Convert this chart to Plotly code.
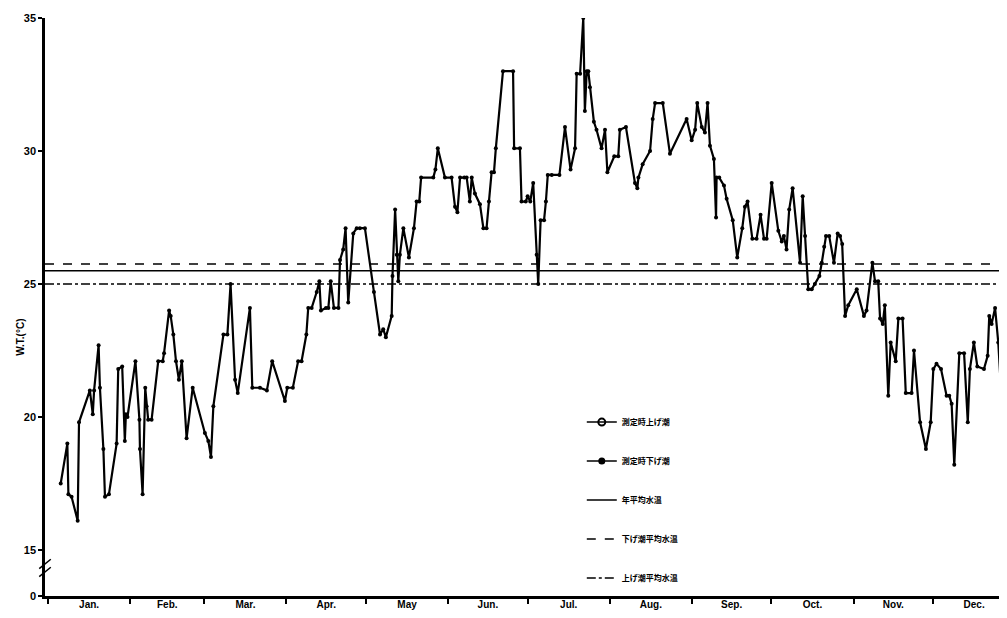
import plotly.graph_objects as go

# ---- data (day of year, water temperature degC) ----
day = [4.8, 7.3, 7.7, 8.9, 11.2, 11.7, 15.8, 16.9, 17.4, 19.1, 19.6, 20.9, 21.5, 23.0, 25.9, 26.5, 28.0, 29.0, 29.4, 30.0,
       33.0, 34.5, 34.7, 35.7, 36.7, 37.2, 37.8, 39.1, 41.6, 43.3, 43.8, 45.7, 46.3, 47.3, 48.3, 49.4, 50.5, 52.3, 54.6,
       59.2, 60.5, 61.5, 62.4, 66.2, 67.7, 68.9, 70.6, 71.6, 76.2, 77.1, 80.0, 82.6, 84.6, 89.4, 90.3, 92.4, 94.4, 95.7,
       97.5, 98.2, 99.5, 101.4, 102.4, 103.0, 104.9, 105.8, 106.7, 107.9, 109.6, 110.2, 111.4, 112.3, 113.3, 115.2, 116.5,
       117.7, 119.6, 123.0, 125.3, 126.5, 127.5, 129.7, 130.0, 131.0, 131.6, 132.2, 132.8, 134.1, 136.2, 138.1, 139.1,
       140.1, 140.8, 145.4, 146.2, 147.1, 149.8, 152.3, 153.6, 154.5, 155.5, 157.1, 158.0, 159.2, 159.9, 161.1, 163.0,
       164.3, 165.5, 166.4, 167.4, 168.3, 169.0, 171.7, 175.5, 175.9, 178.1, 178.7, 180.3, 181.0, 182.0, 183.1, 184.4,
       185.0, 185.9, 187.2, 187.9, 188.6, 190.1, 193.0, 195.1, 197.2, 198.9, 199.5, 200.8, 202.0, 202.6, 203.3, 203.9,
       204.5, 206.0, 207.0, 208.9, 210.2, 211.1, 213.7, 215.2, 215.8, 218.1, 221.5, 222.4, 222.8, 224.4, 227.2, 228.2,
       229.1, 232.0, 234.7, 241.0, 242.9, 244.2, 245.0, 246.7, 247.9, 248.9, 249.8, 251.3, 252.1, 252.3, 253.3, 255.1,
       256.1, 258.4, 260.1, 262.0, 263.0, 264.0, 265.8, 267.4, 268.9, 270.2, 271.2, 273.1, 275.6, 276.9, 277.7, 278.7,
       279.7, 281.0, 283.8, 284.8, 285.7, 286.9, 288.2, 289.4, 291.1, 292.0, 292.9, 293.6, 294.8, 296.6, 298.0, 298.9,
       299.7, 300.8, 302.0, 305.2, 307.9, 308.9, 311.1, 312.1, 313.3, 314.0, 315.0, 315.8, 317.1, 318.0, 319.9, 320.9,
       322.5, 323.7, 325.9, 326.8, 329.1, 331.3, 333.1, 334.1, 335.3, 337.0, 339.1, 340.1, 341.0, 342.0, 343.9, 345.7,
       347.1, 347.9, 349.4, 350.7, 353.2, 354.6, 355.2, 356.1, 357.4, 358.6, 361.5, 362.5]
temp = [17.5, 19.0, 17.1, 17.0, 16.1, 19.8, 21.0, 20.1, 21.0, 22.7, 21.1, 18.8, 17.0, 17.1, 19.0, 21.8, 21.9, 19.1, 20.1, 20.0,
        22.1, 19.9, 18.8, 17.1, 21.1, 20.4, 19.9, 19.9, 22.1, 22.1, 22.4, 24.0, 23.8, 23.1, 22.1, 21.4, 22.1, 19.2, 21.1,
        19.4, 19.1, 18.5, 20.4, 23.1, 23.1, 25.0, 21.4, 20.9, 24.1, 21.1, 21.1, 21.0, 22.1, 20.6, 21.1, 21.1, 22.1, 22.1,
        23.1, 24.1, 24.1, 24.7, 25.1, 24.0, 24.1, 24.1, 25.1, 24.1, 24.1, 25.9, 26.3, 27.1, 24.3, 26.9, 27.1,
        27.1, 27.1, 24.7, 23.1, 23.3, 23.0, 23.8, 25.3, 27.8, 26.1, 25.1, 26.1, 27.1, 26.0, 27.1, 28.1,
        28.1, 29.0, 29.0, 29.3, 30.1, 29.0, 29.0, 27.9, 27.7, 29.0, 29.0, 29.0, 28.1, 29.0, 28.4, 28.0,
        27.1, 27.1, 28.1, 29.2, 29.2, 30.1, 33.0, 33.0, 30.1, 30.1, 28.1, 28.1, 28.3, 28.1, 28.8, 26.1,
        25.0, 27.4, 27.4, 28.1, 29.1, 29.1, 29.1, 30.9, 29.3, 30.1, 32.9, 32.9, 35.0, 31.5, 33.0, 33.0,
        32.4, 31.1, 30.8, 30.1, 30.8, 29.2, 29.8, 29.8, 30.8, 30.9, 28.8, 28.6, 29.0, 29.5, 30.0, 31.2,
        31.8, 31.8, 29.9, 31.2, 30.4, 30.8, 31.8, 30.9, 30.7, 31.8, 30.2, 29.7, 27.5, 29.0, 29.0, 28.7,
        28.2, 27.4, 26.0, 27.1, 27.9, 28.1, 26.7, 26.7, 27.6, 26.7, 26.7, 28.8, 27.0, 26.6, 26.8, 26.3,
        27.8, 28.6, 25.8, 28.3, 26.8, 24.8, 24.8, 25.0, 25.3, 25.8, 26.4, 26.8, 26.8, 25.8, 26.9, 26.8,
        26.5, 23.8, 24.2, 24.8, 23.8, 24.0, 25.8, 25.1, 25.1, 23.7, 23.5, 24.2, 20.8, 22.8, 22.1, 23.7,
        23.7, 20.9, 20.9, 22.5, 19.8, 18.8, 19.8, 21.8, 22.0, 21.8, 20.8, 20.8, 20.5, 18.2, 22.4, 22.4,
        19.8, 21.8, 22.8, 21.9, 21.8, 22.3, 23.8, 23.5, 24.1, 22.8, 17.9, 17.2]

annual_mean = 25.5
ebb_mean = 25.75
flood_mean = 25.0

month_starts = [0, 31, 59, 90, 120, 151, 181, 212, 243, 273, 304, 334, 365]
month_labels = ["Jan.", "Feb.", "Mar.", "Apr.", "May", "Jun.", "Jul.", "Aug.", "Sep.", "Oct.", "Nov.", "Dec."]
y_tick_vals = [15, 20, 25, 30, 35]
y_tick_text = ["15", "20", "25", "30", "35"]

legend_names = ["測定時上げ潮", "測定時下げ潮", "年平均水温", "下げ潮平均水温", "上げ潮平均水温"]

# ---- layout constants ----
X_MIN, X_MAX = -1.13, 361.9
Y_BOT, Y_TOP = 13.27, 35.0
month_mid = [(month_starts[i] + month_starts[i + 1]) / 2 for i in range(12)]

SANS = "Liberation Sans, Arial, sans-serif"
BOLD = dict(family=SANS, size=11, color="black", weight="bold")
CJK = dict(family="Noto Sans CJK JP, sans-serif", size=8, color="black", weight="bold")

fig = go.Figure()

# main data line
fig.add_trace(go.Scatter(
    x=day, y=temp, mode="lines+markers",
    line=dict(color="black", width=2.2),
    marker=dict(symbol="circle", size=4, color="black"),
    showlegend=False, hoverinfo="x+y",
))

# legend-only markers
fig.add_trace(go.Scatter(
    x=[None], y=[None], mode="lines+markers", name=legend_names[0], legendgroup="a",
    line=dict(color="black", width=1.5),
    marker=dict(symbol="circle-open", size=7, color="black", line=dict(width=2)),
))
fig.add_trace(go.Scatter(
    x=[None], y=[None], mode="lines+markers", name=legend_names[1], legendgroup="b",
    line=dict(color="black", width=1.5),
    marker=dict(symbol="circle", size=7, color="black"),
))

# mean lines
for val, nm, dash, grp in [(annual_mean, legend_names[2], "solid", "c"),
                           (ebb_mean, legend_names[3], "dash", "d"),
                           (flood_mean, legend_names[4], "dashdot", "e")]:
    fig.add_trace(go.Scatter(
        x=[X_MIN, X_MAX], y=[val, val], mode="lines", name=nm, legendgroup=grp,
        line=dict(color="black", width=1.6, dash=dash), hoverinfo="skip",
    ))

# axis break mark
for off in (0.0, 0.3):
    fig.add_shape(type="line", xref="paper", yref="y",
                  x0=-0.006, x1=0.006, y0=14.0 + off, y1=14.35 + off,
                  line=dict(color="black", width=1.5))

fig.add_annotation(
    text="W.T.(°C)", textangle=-90, xref="paper", yref="y",
    x=-0.0175, y=23.0, xanchor="right", yanchor="middle", showarrow=False,
    font=dict(family=SANS, size=10, color="black", weight="bold"),
)

# The page body has an 8px margin, so the figure is 8px smaller than the window.
fig.update_layout(
    width=999, height=610,
    margin=dict(l=37, r=0, t=10, b=22),
    paper_bgcolor="white", plot_bgcolor="white",
    showlegend=True,
    legend=dict(
        x=0.558, y=0.326, xanchor="left", yanchor="top",
        traceorder="grouped", tracegroupgap=20,
        font=CJK, bgcolor="rgba(0,0,0,0)",
    ),
    xaxis=dict(
        range=[X_MIN, X_MAX],
        tickmode="array", tickvals=month_mid, ticktext=month_labels,
        ticks="", showgrid=False, zeroline=False,
        showline=True, linecolor="black", linewidth=2.5,
        ticklabelstandoff=-3,
        tickfont=dict(family=SANS, size=10, color="black", weight="bold"),
        minor=dict(tickmode="array", tickvals=month_starts, ticks="outside", ticklen=5,
                   tickwidth=1.5, tickcolor="black", showgrid=False),
    ),
    yaxis=dict(
        range=[Y_BOT, Y_TOP],
        tickmode="array", tickvals=[Y_BOT] + y_tick_vals, ticktext=["0"] + y_tick_text,
        ticks="outside", ticklen=4, tickwidth=1.5, tickcolor="black",
        showgrid=False, zeroline=False,
        showline=True, linecolor="black", linewidth=2.5,
        tickfont=BOLD,
    ),
)

fig.write_html("out.html")
